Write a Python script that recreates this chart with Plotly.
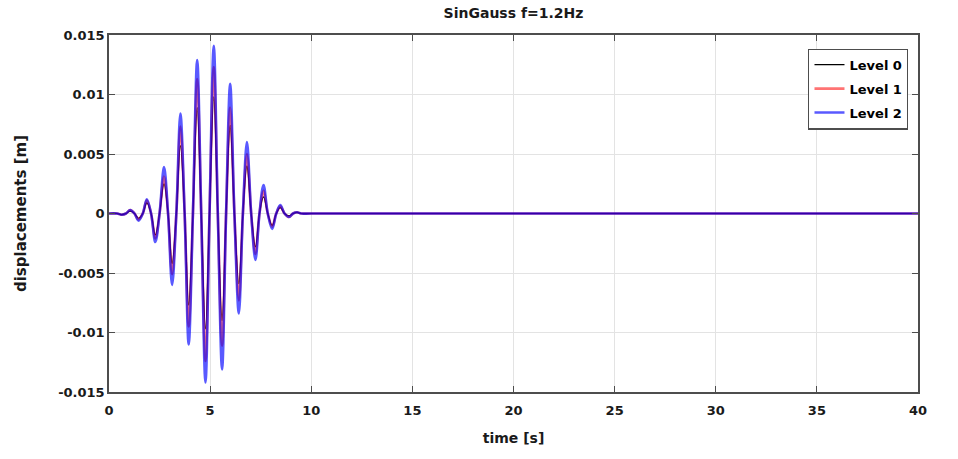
import plotly.graph_objects as go

# Sample times (s): start, extrema and zero crossings, end
time_s = [0.0, 0.40, 0.63, 0.84, 1.05, 1.26, 1.46, 1.67, 1.87, 2.08, 2.29, 2.50,
          2.72, 2.92, 3.12, 3.33, 3.53, 3.74, 3.94, 4.15, 4.36, 4.56, 4.77, 4.97,
          5.18, 5.38, 5.59, 5.79, 5.99, 6.20, 6.42, 6.62, 6.82, 7.03, 7.24, 7.44,
          7.64, 7.85, 8.07, 8.27, 8.47, 8.68, 8.90, 9.10, 9.30, 9.50, 10.0, 40.0]

level0 = [0.0, 0.0, -0.0001, 0.0, 0.0002, 0.0, -0.0004, 0.0, 0.0009, 0.0, -0.0018, 0.0,
          0.0025, 0.0, -0.0042, 0.0, 0.0057, 0.0, -0.0077, 0.0, 0.0089, 0.0, -0.0097, 0.0,
          0.0098, 0.0, -0.0090, 0.0, 0.0074, 0.0, -0.0059, 0.0, 0.0040, 0.0, -0.0028, 0.0,
          0.0014, 0.0, -0.0010, 0.0, 0.0005, 0.0, -0.0002, 0.0, 0.0001, 0.0, 0.0, 0.0]

level1 = [0.0, 0.0, -0.0001, 0.0, 0.0003, 0.0, -0.0005, 0.0, 0.0011, 0.0, -0.0021, 0.0,
          0.0031, 0.0, -0.0051, 0.0, 0.0073, 0.0, -0.0095, 0.0, 0.0113, 0.0, -0.0124, 0.0,
          0.0123, 0.0, -0.0111, 0.0, 0.0089, 0.0, -0.0073, 0.0, 0.0050, 0.0, -0.0034, 0.0,
          0.0019, 0.0, -0.0011, 0.0, 0.0006, 0.0, -0.0003, 0.0, 0.0001, 0.0, 0.0, 0.0]

level2 = [0.0, 0.0, -0.0001, 0.0, 0.0003, 0.0, -0.0006, 0.0, 0.0012, 0.0, -0.0024, 0.0,
          0.0039, 0.0, -0.0060, 0.0, 0.0084, 0.0, -0.0110, 0.0, 0.0129, 0.0, -0.0142, 0.0,
          0.0141, 0.0, -0.0131, 0.0, 0.0109, 0.0, -0.0084, 0.0, 0.0060, 0.0, -0.0039, 0.0,
          0.0024, 0.0, -0.0013, 0.0, 0.0007, 0.0, -0.0003, 0.0, 0.0001, 0.0, 0.0, 0.0]

series_names = ["Level 0", "Level 1", "Level 2"]
x_ticks = [0, 5, 10, 15, 20, 25, 30, 35, 40]
y_ticks = [-0.015, -0.01, -0.005, 0, 0.005, 0.01, 0.015]
y_tick_labels = ["-0.015", "-0.01", "-0.005", "0", "0.005", "0.01", "0.015"]

FONT = "DejaVu Sans, Verdana, sans-serif"
TXT = "#1a1a1a"

fig = go.Figure()
styles = [("#000000", 1.2), ("rgba(255,0,0,0.55)", 2.6), ("rgba(0,0,255,0.65)", 2.6)]
for i, (name, ys, (col, w)) in enumerate(zip(series_names, [level0, level1, level2], styles)):
    fig.add_trace(go.Scatter(x=time_s, y=ys, mode="lines", name=name, legendgroup=f"g{i}",
                             line=dict(color=col, width=w, shape="spline", smoothing=1.0)))

axis_common = dict(showline=True, linecolor="#4d4d4d", linewidth=1.5, mirror="ticks",
                   ticks="inside", ticklen=6, tickcolor="#4d4d4d",
                   showgrid=True, gridcolor="#e3e3e3", gridwidth=1, zeroline=False,
                   tickfont=dict(family=FONT, size=13, color=TXT, weight="bold"))

fig.update_xaxes(range=[0, 40], tickvals=x_ticks, ticklabelstandoff=6,
                 title=dict(text="time [s]", font=dict(family=FONT, size=14, color=TXT, weight="bold"),
                            standoff=16),
                 **axis_common)
fig.update_yaxes(range=[-0.015, 0.015], tickvals=y_ticks, ticktext=y_tick_labels,
                 title=dict(text="displacements [m]", font=dict(family=FONT, size=15, color=TXT, weight="bold"),
                            standoff=28),
                 **axis_common)

fig.update_layout(
    width=958, height=459,
    margin=dict(l=109, r=40, t=35, b=67),
    paper_bgcolor="white", plot_bgcolor="white",
    title=dict(text="SinGauss f=1.2Hz", x=0.5, xref="paper", xanchor="center", y=0.972, yanchor="middle",
               font=dict(family=FONT, size=14, color=TXT, weight="bold")),
    legend=dict(x=0.988, xanchor="right", y=0.962, yanchor="top",
                bordercolor="#4d4d4d", borderwidth=1.2, bgcolor="white",
                traceorder="grouped", tracegroupgap=4,
                font=dict(family=FONT, size=13, color="#000000", weight="bold")),
    showlegend=True,
)

fig.write_html("out.html")
